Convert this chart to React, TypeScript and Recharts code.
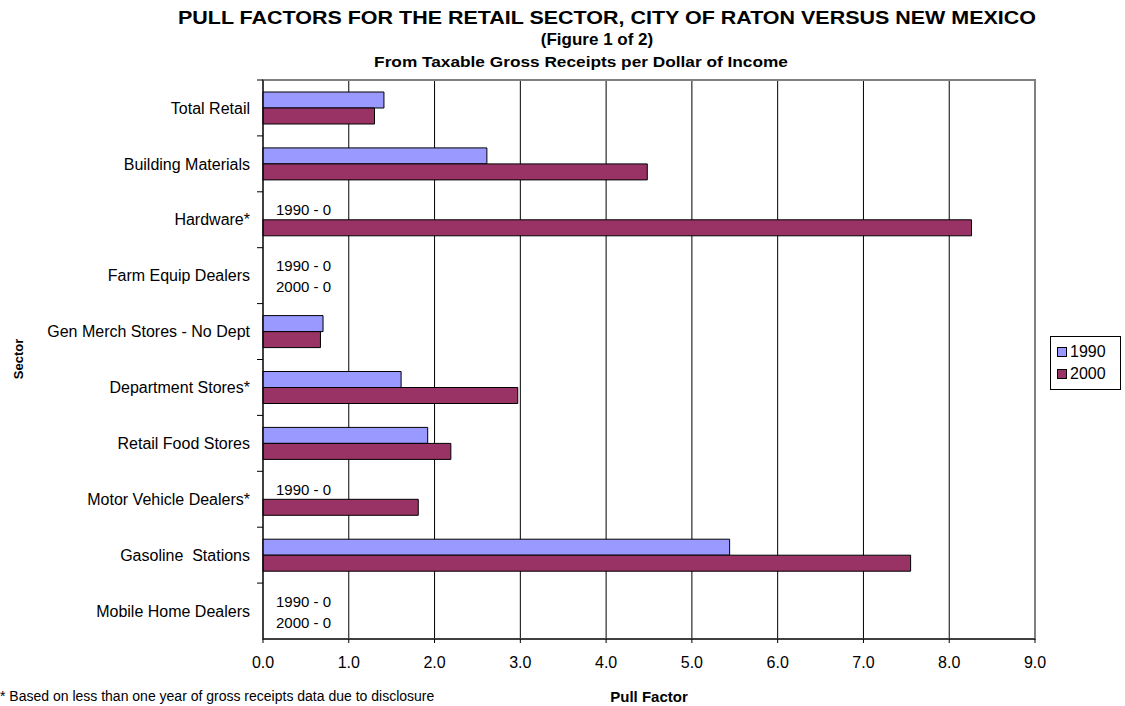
import { Bar, BarChart, CartesianGrid, Legend, ReferenceArea, ReferenceLine, XAxis, YAxis } from "recharts"

const sectors = [
  "Total Retail",
  "Building Materials",
  "Hardware*",
  "Farm Equip Dealers",
  "Gen Merch Stores - No Dept",
  "Department Stores*",
  "Retail Food Stores",
  "Motor Vehicle Dealers*",
  "Gasoline\u00a0 Stations",
  "Mobile Home Dealers",
]
const values1990 = [1.41, 2.61, 0, 0, 0.7, 1.61, 1.92, 0, 5.44, 0]
const values2000 = [1.3, 4.48, 8.26, 0, 0.67, 2.97, 2.19, 1.81, 7.55, 0]
const xTicks = [0, 1, 2, 3, 4, 5, 6, 7, 8, 9]

const seriesInfo = [
  { key: "y1990", name: "1990", color: "#9999FF", values: values1990, dy: -10 },
  { key: "y2000", name: "2000", color: "#993366", values: values2000, dy: 11 },
]

const data = sectors.map((sector, i) => ({ sector, y1990: values1990[i], y2000: values2000[i] }))

const FONT = "Arial, 'Liberation Sans', sans-serif"

// the "1990 - 0" notes go where a bar has no value
const zeroNotes = sectors.map((sector, i) => ({
  sector,
  lines: seriesInfo.filter((s) => s.values[i] === 0).map((s) => ({ text: `${s.name} - 0`, dy: s.dy })),
})).filter((n) => n.lines.length > 0)

const noteLabel = (lines: { text: string; dy: number }[]) => (props: any) => {
  const vb = props.viewBox
  if (!vb) return null
  return (
    <g>
      {lines.map((l) => (
        <text key={l.text} x={vb.x + 13} y={vb.y + l.dy} dominantBaseline="central" fontSize={15} fontFamily={FONT} fill="#000">
          {l.text}
        </text>
      ))}
    </g>
  )
}

const LegendBox = () => (
  <div style={{ border: "1px solid #000", padding: "4px 14px 4px 6px", background: "#fff", fontFamily: FONT, fontSize: 16 }}>
    {seriesInfo.map((s) => (
      <div key={s.key} style={{ display: "flex", alignItems: "center", height: 22 }}>
        <span style={{ width: 8, height: 8, background: s.color, border: "1px solid #000", marginRight: 3 }} />
        <span>{s.name}</span>
      </div>
    ))}
  </div>
)

const titleLine = (text: string, cx: number, top: number, size: number, sx: number) => (
  <div style={{ position: "absolute", left: cx - 600, width: 1200, top, textAlign: "center", fontWeight: "bold", fontSize: size, lineHeight: "22px", whiteSpace: "nowrap", transform: `scaleX(${sx})` }}>
    {text}
  </div>
)

export default function App() {
  return (
    <div style={{ position: "absolute", left: 0, top: 0, width: 1125, height: 706, background: "#fff", fontFamily: FONT, overflow: "hidden" }}>
      {titleLine("PULL FACTORS FOR THE RETAIL SECTOR, CITY OF RATON VERSUS NEW MEXICO", 607, 7, 19, 1.13)}
      {titleLine("(Figure 1 of 2)", 597, 29, 17, 1)}
      {titleLine("From Taxable Gross Receipts per Dollar of Income", 581, 51, 15, 1.15)}
      <BarChart
        width={1125}
        height={706}
        data={data}
        layout="vertical"
        barSize={16}
        barGap={0}
        margin={{ top: 80, right: 90, bottom: 0, left: 0 }}
        style={{ position: "absolute", left: 0, top: 0 }}
      >
        <ReferenceArea x1={0} x2={9} fill="none" stroke="#808080" strokeWidth={2} />
        <CartesianGrid horizontal={false} stroke="#000" />
        <XAxis
          type="number"
          domain={[0, 9]}
          ticks={xTicks}
          tickFormatter={(v: number) => v.toFixed(1)}
          height={67}
          tickSize={4}
          tickMargin={14}
          axisLine={{ stroke: "#000" }}
          tickLine={{ stroke: "#000" }}
          tick={{ fill: "#000", fontSize: 16, fontFamily: FONT }}
          label={{ value: "Pull Factor", position: "insideBottom", offset: 4, fill: "#000", fontSize: 15, fontWeight: "bold", fontFamily: FONT }}
        />
        <YAxis
          type="category"
          dataKey="sector"
          width={263}
          interval={0}
          tickSize={6}
          tickMargin={7}
          axisLine={{ stroke: "#000" }}
          tickLine={{ stroke: "#000", transform: "translate(0,-27.95)" }}
          tick={{ fill: "#000", fontSize: 16, fontFamily: FONT }}
          label={{
            value: "Sector",
            content: () => (
              <text x={18} y={359} transform="rotate(-90 18 359)" textAnchor="middle" dominantBaseline="central" fontSize={13} fontWeight="bold" fontFamily={FONT} fill="#000">
                Sector
              </text>
            ),
          }}
        />
        <Legend layout="vertical" align="center" verticalAlign="middle" content={<LegendBox />} wrapperStyle={{ left: 1050, top: 336, width: "auto" }} />
        {seriesInfo.map((s) => (
          <Bar key={s.key} dataKey={s.key} name={s.name} fill={s.color} stroke="#000" strokeWidth={1} isAnimationActive={false} />
        ))}
        {zeroNotes.map((n) => (
          <ReferenceLine key={n.sector} y={n.sector} stroke="none" label={noteLabel(n.lines)} />
        ))}
      </BarChart>
      <div style={{ position: "absolute", left: 0, top: 689, fontSize: 14, lineHeight: "15px", whiteSpace: "nowrap" }}>
        * Based on less than one year of gross receipts data due to disclosure
      </div>
    </div>
  )
}
